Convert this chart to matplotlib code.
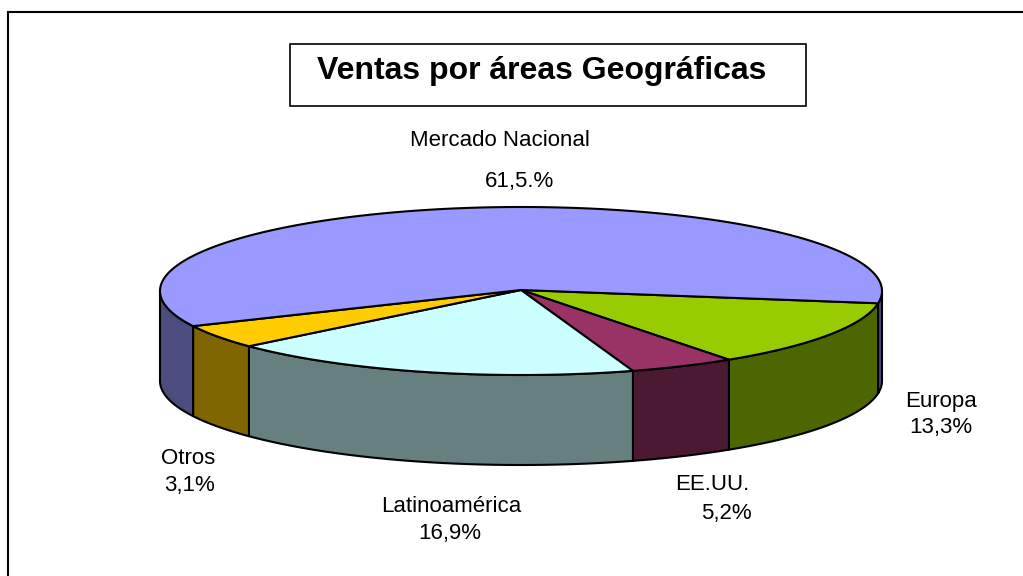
import numpy as np
import matplotlib
matplotlib.use('Agg')
import matplotlib.pyplot as plt
from matplotlib.patches import Polygon, Rectangle

# slice sizes as drawn (the printed labels were typed by hand and differ a bit)
categories = ['Mercado Nacional', 'Europa', 'EE.UU.', 'Latinoamérica', 'Otros']
drawn_share = [59.2, 12.9, 4.75, 18.6, 4.55]
printed_share = ['61,5.%', '13,3%', '5,2%', '16,9%', '3,1%']
top_colors = ['#9999FF', '#99CC00', '#993366', '#CCFFFF', '#FFCC00']
side_colors = ['#4C4C7F', '#4C6600', '#4C1933', '#667F7F', '#7F6600']
title = 'Ventas por áreas Geográficas'

CX, CY = 521, 291
RX, RY = 361, 84
DEPTH = 90
APEX = (521, 290)
START = -8.4
LW = 1.5

label_pos = [(500, 141), (941, 402), (712, 485), (451, 507), (188, 459)]
value_pos = [(519, 182), (941, 428), (726, 513), (450, 533), (189, 486)]


def rim(t0, t1):
    t = np.radians(np.linspace(t0, t1, max(int(abs(t1 - t0)) * 2, 2)))
    return np.column_stack([CX + RX * np.cos(t), CY - RY * np.sin(t)])


plt.rcParams['font.family'] = ['Liberation Sans', 'DejaVu Sans']

fig = plt.figure(figsize=(10.23, 5.76), dpi=100)
ax = fig.add_axes([0, 0, 1, 1])
ax.set_xlim(0, 1023)
ax.set_ylim(576, 0)
ax.axis('off')

ax.plot([8, 8, 1023], [576, 12, 12], color='black', lw=LW, zorder=1, solid_joinstyle='miter')

ax.add_patch(Rectangle((290, 44), 516, 62, fc='white', ec='black', lw=1.2, zorder=2))
ax.text(542, 71, title, fontsize=23, fontweight='bold', ha='center', va='center', zorder=3)

angles = START - np.cumsum([0] + drawn_share[1:] + [drawn_share[0]]) * 3.6
order = [1, 2, 3, 4, 0]

# side wall first, only the part that faces the viewer
for k, i in enumerate(order):
    spans = [(angles[k], angles[k + 1])]
    if i == 0:
        spans = [(angles[k], -180), (0, START)]
    for a, b in spans:
        upper = rim(a, b)
        lower = upper + [0, DEPTH]
        ax.add_patch(Polygon(np.vstack([upper, lower[::-1]]), fc=side_colors[i], ec='black', lw=LW, zorder=4, joinstyle='round'))

# top face
for k, i in enumerate(order):
    pts = np.vstack([[APEX], rim(angles[k], angles[k + 1])])
    ax.add_patch(Polygon(pts, fc=top_colors[i], ec='black', lw=LW, zorder=5, joinstyle='round'))

for i, name in enumerate(categories):
    ax.text(*label_pos[i], name, fontsize=16, ha='center', va='center', zorder=6)
    ax.text(*value_pos[i], printed_share[i], fontsize=16, ha='center', va='center', zorder=6)

fig.savefig('out.png', dpi=100)
